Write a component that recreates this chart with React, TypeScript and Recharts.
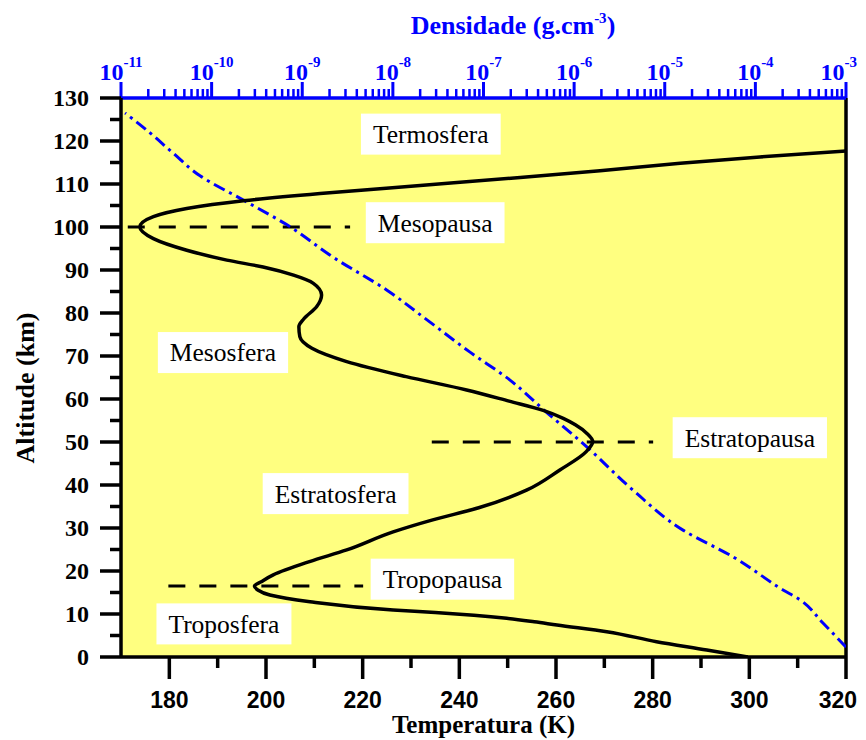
import React, { useLayoutEffect, useRef, useState } from 'react';
import {
  ComposedChart,
  Line,
  XAxis,
  YAxis,
  ReferenceLine,
  ReferenceArea,
  ReferenceDot,
  Label,
} from 'recharts';

// ---- Data ----
const tempAltitudes = [
  0, 1.63, 3.56, 5.88, 7.44, 8.2, 9.0, 9.7, 10.35, 10.93, 12.86, 14.42, 15.6, 16.5, 17.5, 19.1, 22.2,
  24.9, 29.1, 31.9, 34.7, 38.8, 43.5, 47.7, 50.1, 52, 54, 55.5, 57.3, 59.5, 62.1, 65.2, 68.7, 71.8,
  74.5, 76.8, 78.6, 81.5, 84.2, 86.9, 88.8, 90.7, 92.3, 94.6, 97.3, 100, 102.4, 104.3, 106.1, 107.8,
  109.65, 111.5, 113.1, 114.8, 116.3, 117.7,
];
const temperatures = [
  299.7, 291.2, 280.8, 270.5, 260.2, 255.5, 249.8, 243, 235, 226.3, 209.1, 200.8, 198.3, 197.6, 199,
  201.5, 209, 216.7, 226.3, 234.5, 244, 253.9, 260.8, 266.2, 267.6, 266.4, 264, 261.5, 257.5, 250.3,
  241.5, 229, 216.7, 209.5, 207, 206.8, 207.8, 210.5, 211.5, 209.8, 205.7, 199.4, 191.9, 183.6,
  176.7, 173.9, 176.7, 183.6, 195.3, 211.2, 231.9, 252.6, 269.1, 285.7, 302.2, 320,
];

const densAltitudes = [
  2.3, 7.9, 13.3, 15.6, 23.3, 29.5, 38.8, 48.8, 57.2, 64.4, 70.9, 78.4, 85.3, 93.0, 100.5, 106.3,
  111.9, 117.2, 121.9, 126.5,
];
const densities = [
  1.0e-3, 5.57e-4, 3.1e-4, 2.02e-4, 5.66e-5, 1.59e-5, 4.47e-6, 1.39e-6, 4.78e-7, 1.96e-7, 7.1e-8,
  2.38e-8, 8.61e-9, 2.18e-9, 6.79e-10, 2.22e-10, 7.45e-11, 3.75e-11, 2.09e-11, 1.11e-11,
];

const altitudeTicks = [0, 5, 10, 15, 20, 25, 30, 35, 40, 45, 50, 55, 60, 65, 70, 75, 80, 85, 90, 95, 100, 105, 110, 115, 120, 125, 130];
const temperatureTicks = [170, 180, 190, 200, 210, 220, 230, 240, 250, 260, 270, 280, 290, 300, 310, 320];
const densityDecades = [-11, -10, -9, -8, -7, -6, -5, -4, -3];
const densityMantissas = [1, 2, 3, 4, 5, 6, 7, 8, 9];

const regionNames = ['Termosfera', 'Mesopausa', 'Mesosfera', 'Estratopausa', 'Estratosfera', 'Tropopausa', 'Troposfera'];
const regionTemps = [234.1, 235, 191.1, 300.1, 214.4, 236.5, 191.3];
const regionAlts = [121.6, 101.0, 70.8, 51.0, 38.0, 18.1, 7.7];

const pauseAlts = [100, 50, 16.5];
const pauseStartTemps = [171.4, 234.3, 179.8];
const pauseEndTemps = [217.4, 280.1, 220.1];

// ---- Derived tables ----
const tempData = tempAltitudes.map((alt, i) => ({ alt, t: temperatures[i] }));
const densData = densAltitudes.map((alt, i) => ({ alt, d: densities[i] }));
const densityTicks: number[] = [];
densityDecades.forEach((e, k) => {
  if (k === densityDecades.length - 1) {
    densityTicks.push(Math.pow(10, e));
  } else {
    densityMantissas.forEach((m) => densityTicks.push(m * Math.pow(10, e)));
  }
});
const lastDecade = densityDecades[densityDecades.length - 1];
const lastTemp = temperatureTicks[temperatureTicks.length - 1];

const BLUE = '#0000FF';
const YELLOW = '#FFFF80';
const serif = '"Liberation Serif", "Times New Roman", serif';
const sans = '"Liberation Sans", Arial, sans-serif';

const LeftTick = (props: any) => {
  const { x, y, payload } = props;
  const v = payload.value;
  const major = v % 10 === 0;
  return (
    <g>
      <line x1={x} x2={x - (major ? 21 : 11)} y1={y} y2={y} stroke="#000" strokeWidth={3.5} />
      {major && (
        <text x={x - 32} y={y} dy="0.35em" textAnchor="end" fill="#000"
          style={{ fontFamily: serif, fontWeight: 'bold', fontSize: 24 }}>
          {v}
        </text>
      )}
    </g>
  );
};

const BottomTick = (props: any) => {
  const { x, y, payload } = props;
  const v = payload.value;
  if (v === 170) return <g />;
  const major = (v - 180) % 20 === 0;
  const isLast = v === lastTemp;
  return (
    <g>
      <line x1={x} x2={x} y1={y} y2={y + (major ? 22 : 11)} stroke="#000" strokeWidth={3.5} />
      {major && (
        <text x={isLast ? x + 11 : x} y={y + 43} dy="0.35em" textAnchor={isLast ? 'end' : 'middle'} fill="#000"
          style={{ fontFamily: sans, fontWeight: 'bold', fontSize: 23 }}>
          {v}
        </text>
      )}
    </g>
  );
};

const TopTick = (props: any) => {
  const { x, y, payload } = props;
  const v = payload.value;
  const e = Math.log10(v);
  const exp = Math.round(e);
  const decade = Math.abs(e - exp) < 1e-6;
  const isLast = decade && exp === lastDecade;
  return (
    <g>
      <line x1={x} x2={x} y1={y} y2={y - (decade ? 16 : 9)} stroke={BLUE} strokeWidth={decade ? 3 : 2.5} />
      {decade && (
        <text x={isLast ? x + 11 : x} y={y - 18} textAnchor={isLast ? 'end' : 'middle'} fill={BLUE} fontSize={24}
          style={{ fontFamily: serif, fontWeight: 'bold', fontSize: 24 }}>
          10
          <tspan dy={-13} fontSize={15} style={{ fontSize: 15 }}>{exp}</tspan>
        </text>
      )}
    </g>
  );
};

const RegionBox = ({ cx, cy, text }: { cx: number; cy: number; text: string }) => {
  const ref = useRef<SVGTextElement>(null);
  const [w, setW] = useState(text.length * 11.5);
  useLayoutEffect(() => {
    if (ref.current) {
      const b = ref.current.getBBox();
      if (Math.abs(b.width - w) > 0.5) setW(b.width);
    }
  }, [text, w]);
  const bw = w + 24;
  const bh = 41;
  return (
    <g>
      <rect x={cx - bw / 2} y={cy - bh / 2} width={bw} height={bh} fill="#FFFFFF" />
      <text ref={ref} x={cx} y={cy} dy="0.35em" textAnchor="middle" fill="#000"
        style={{ fontFamily: serif, fontSize: 25.5 }}>
        {text}
      </text>
    </g>
  );
};

export default function App() {
  return (
    <ComposedChart
      width={850}
      height={732}
      layout="vertical"
      margin={{ top: 40, right: 12, bottom: 43, left: 53 }}
    >
      <XAxis
        xAxisId="temp"
        type="number"
        orientation="bottom"
        domain={[170, 320]}
        ticks={temperatureTicks}
        interval={0}
        allowDataOverflow
        height={40}
        tickSize={0}
        tickMargin={0}
        tickLine={false}
        tick={<BottomTick />}
        axisLine={{ stroke: '#000', strokeWidth: 3.5 }}
      >
        <Label
          content={(p: any) => {
            const vb = p.viewBox || { x: 113, y: 649, width: 725, height: 40 };
            return (
              <text x={vb.x + vb.width / 2} y={vb.y + 76} textAnchor="middle" fill="#000"
                style={{ fontFamily: serif, fontWeight: 'bold', fontSize: 25 }}>
                Temperatura (K)
              </text>
            );
          }}
        />
      </XAxis>
      <XAxis
        xAxisId="dens"
        type="number"
        orientation="top"
        scale="log"
        domain={[1e-11, 1e-3]}
        ticks={densityTicks}
        interval={0}
        allowDataOverflow
        height={50}
        tickSize={0}
        tickMargin={0}
        tickLine={false}
        tick={<TopTick />}
        axisLine={{ stroke: BLUE, strokeWidth: 3.5 }}
      >
        <Label
          content={(p: any) => {
            const vb = p.viewBox || { x: 113, y: 40, width: 725, height: 50 };
            return (
              <text x={vb.x + 392} y={vb.y + vb.height - 64} textAnchor="middle" fill={BLUE}
                style={{ fontFamily: serif, fontWeight: 'bold', fontSize: 26 }}>
                Densidade (g.cm
                <tspan dy={-11} style={{ fontSize: 15 }}>-3</tspan>
                <tspan dy={11}>)</tspan>
              </text>
            );
          }}
        />
      </XAxis>
      <YAxis
        yAxisId="alt"
        type="number"
        dataKey="alt"
        domain={[0, 130]}
        ticks={altitudeTicks}
        interval={0}
        reversed
        allowDataOverflow
        width={60}
        tickSize={0}
        tickMargin={0}
        tickLine={false}
        tick={<LeftTick />}
        axisLine={{ stroke: '#000', strokeWidth: 3.5 }}
      >
        <Label
          content={(p: any) => {
            const vb = p.viewBox || { x: 53, y: 90, width: 60, height: 559 };
            const cx = vb.x - 36;
            const cy = vb.y + 290;
            return (
              <text x={0} y={0} dy="0.35em" textAnchor="middle" fill="#000"
                transform={`translate(${cx},${cy}) rotate(-90)`}
                style={{ fontFamily: serif, fontWeight: 'bold', fontSize: 26 }}>
                Altitude (km)
              </text>
            );
          }}
        />
      </YAxis>

      <ReferenceArea
        xAxisId="temp"
        yAxisId="alt"
        x1={170}
        x2={320}
        y1={0}
        y2={130}
        fill={YELLOW}
        fillOpacity={1}
        stroke="none"
      />

      {pauseAlts.map((a, i) => (
        <ReferenceLine
          key={`pause-${i}`}
          xAxisId="temp"
          yAxisId="alt"
          segment={[
            { x: pauseStartTemps[i], y: a },
            { x: pauseEndTemps[i], y: a },
          ]}
          stroke="#000"
          strokeWidth={3}
          strokeDasharray="17 14"
        />
      ))}

      <ReferenceLine xAxisId="temp" yAxisId="alt" x={320} stroke="#000" strokeWidth={3.5} />

      <Line
        xAxisId="dens"
        yAxisId="alt"
        data={densData}
        dataKey="d"
        type="monotone"
        stroke={BLUE}
        strokeWidth={3}
        strokeDasharray="12 5 3 5"
        dot={false}
        activeDot={false}
        isAnimationActive={false}
      />
      <Line
        xAxisId="temp"
        yAxisId="alt"
        data={tempData}
        dataKey="t"
        type="monotone"
        stroke="#000"
        strokeWidth={3.5}
        dot={false}
        activeDot={false}
        isAnimationActive={false}
      />

      {regionNames.map((name, i) => (
        <ReferenceDot
          key={`region-${i}`}
          xAxisId="temp"
          yAxisId="alt"
          x={regionTemps[i]}
          y={regionAlts[i]}
          r={1}
          ifOverflow="visible"
          shape={(p: any) => <RegionBox cx={p.cx} cy={p.cy} text={name} />}
        />
      ))}
    </ComposedChart>
  );
}
